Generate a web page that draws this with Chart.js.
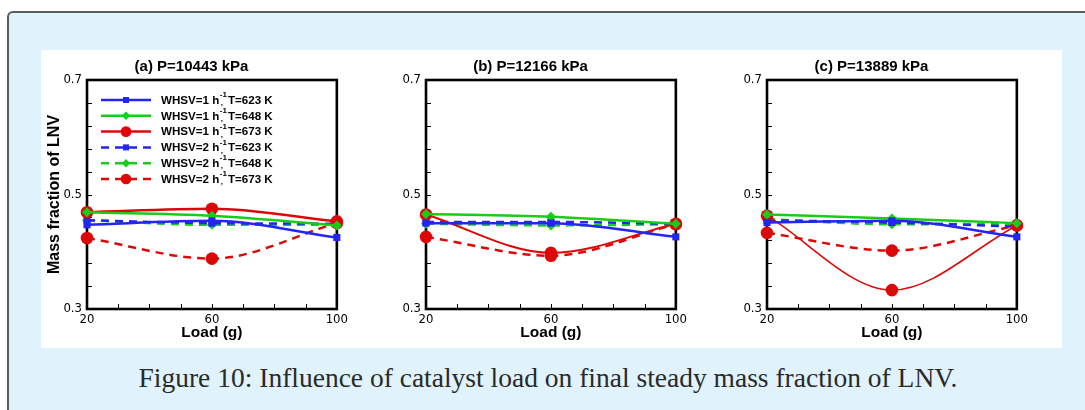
<!DOCTYPE html>
<html><head><meta charset="utf-8">
<script src="https://cdn.jsdelivr.net/npm/chart.js@4.4.0/dist/chart.umd.min.js"></script>
<style>
html,body{margin:0;padding:0;background:#fff;width:1085px;height:410px;overflow:hidden;}
#box{position:absolute;left:7px;top:11px;width:1100px;height:430px;border-left:2px solid #5a5a5a;border-top:2px solid #5a5a5a;border-top-left-radius:6px;background:#e0f2fc;box-sizing:border-box;}
#white{position:absolute;left:41px;top:50px;width:1021px;height:298px;background:#fff;}
canvas{position:absolute;}
#cap{position:absolute;left:0;width:1096px;top:363px;line-height:30px;text-align:center;font-family:'Liberation Serif','DejaVu Serif',serif;font-size:27.5px;color:#2a2a2a;white-space:nowrap;}
</style></head><body>
<div id="box"></div><div id="white"></div>
<canvas id="ca" width="310" height="298" style="left:41px;top:50px"></canvas>
<canvas id="cb" width="310" height="298" style="left:380px;top:50px"></canvas>
<canvas id="cc" width="310" height="298" style="left:721px;top:50px"></canvas>
<div id="cap">Figure 10: Influence of catalyst load on final steady mass fraction of LNV.</div>
<script>
// ---------- data ----------
const loads = [20, 60, 100];
const xTickLabels = [20, 60, 100];
const yTickLabels = [0.3, 0.5, 0.7];
const panelTitles = ['(a) P=10443 kPa', '(b) P=12166 kPa', '(c) P=13889 kPa'];
const whsvValues = [1, 1, 1, 2, 2, 2];
const tempValues = [623, 648, 673, 623, 648, 673];

// panel (a) P=10443 kPa
const a_w1_T623 = [0.447, 0.454, 0.425];
const a_w1_T648 = [0.469, 0.463, 0.446];
const a_w1_T673 = [0.469, 0.475, 0.453];
const a_w2_T623 = [0.455, 0.450, 0.449];
const a_w2_T648 = [0.455, 0.447, 0.447];
const a_w2_T673 = [0.424, 0.388, 0.450];
// panel (b) P=12166 kPa
const b_w1_T623 = [0.450, 0.450, 0.426];
const b_w1_T648 = [0.466, 0.461, 0.449];
const b_w1_T673 = [0.465, 0.398, 0.449];
const b_w2_T623 = [0.452, 0.452, 0.449];
const b_w2_T648 = [0.449, 0.446, 0.448];
const b_w2_T673 = [0.426, 0.393, 0.448];
// panel (c) P=13889 kPa
const c_w1_T623 = [0.451, 0.454, 0.426];
const c_w1_T648 = [0.465, 0.458, 0.450];
const c_w1_T673 = [0.463, 0.333, 0.446];
const c_w2_T623 = [0.455, 0.451, 0.444];
const c_w2_T648 = [0.457, 0.448, 0.449];
const c_w2_T673 = [0.433, 0.402, 0.446];

// ---------- styles ----------
const BLUE = '#2424f4', GREEN = '#18cc18', RED = '#dc0808';
const seriesStyle = [
  {color: BLUE,  shape: 'rect',    r: 5,   dash: []},
  {color: GREEN, shape: 'rectRot', r: 5,   dash: []},
  {color: RED,   shape: 'circle',  r: 6.3, dash: []},
  {color: BLUE,  shape: 'rect',    r: 5,   dash: [8, 6]},
  {color: GREEN, shape: 'rectRot', r: 5,   dash: [8, 6]},
  {color: RED,   shape: 'circle',  r: 6.3, dash: [8, 6]}
];

const SANS = "'Liberation Sans', Arial, sans-serif";
const NARROW = "'Liberation Sans Narrow', 'Arial Narrow', 'DejaVu Sans Condensed', sans-serif";

function makeDatasets(seriesList, widths) {
  return seriesList.map((vals, i) => {
    const s = seriesStyle[i];
    return {
      label: 'WHSV=' + whsvValues[i] + ' h-1,T=' + tempValues[i] + ' K',
      data: loads.map((x, k) => ({x: x, y: vals[k]})),
      borderColor: s.color,
      backgroundColor: s.color,
      pointStyle: s.shape,
      pointRadius: s.r,
      pointHoverRadius: s.r,
      pointBorderWidth: 0,
      borderWidth: widths[i],
      borderDash: s.dash,
      cubicInterpolationMode: 'monotone',
      clip: false
    };
  });
}

const framePlugin = {
  id: 'frame',
  beforeDatasetsDraw(chart) {
    const {ctx, chartArea: a, scales: {x, y}} = chart;
    ctx.save();
    ctx.strokeStyle = '#000';
    ctx.lineWidth = 1;
    ctx.beginPath();
    y.ticks.forEach(t => {
      const py = Math.round(y.getPixelForValue(t.value)) + 0.5;
      ctx.moveTo(a.left, py); ctx.lineTo(a.left + 5, py);
    });
    x.ticks.forEach(t => {
      const px = Math.round(x.getPixelForValue(t.value)) + 0.5;
      ctx.moveTo(px, a.bottom); ctx.lineTo(px, a.bottom - 5);
    });
    ctx.stroke();
    ctx.lineWidth = 2.6;
    ctx.strokeRect(a.left, a.top, a.right - a.left, a.bottom - a.top);
    ctx.restore();
  }
};

const legendPlugin = {
  id: 'seriesLegend',
  afterDatasetsDraw(chart, args, opts) {
    if (!opts.show) return;
    const {ctx, chartArea: a} = chart;
    chart.data.datasets.forEach((d, i) => {
      const y = a.top + opts.top + i * opts.step;
      const x0 = a.left + opts.left, x1 = x0 + opts.lineLen;
      ctx.save();
      ctx.strokeStyle = d.borderColor;
      ctx.lineWidth = 2.5;
      ctx.setLineDash(d.borderDash);
      ctx.beginPath(); ctx.moveTo(x0, y); ctx.lineTo(x1, y); ctx.stroke();
      ctx.setLineDash([]);
      ctx.fillStyle = d.backgroundColor;
      Chart.helpers.drawPoint(ctx, {pointStyle: d.pointStyle, radius: d.pointRadius * 0.85, borderWidth: 0, rotation: 0}, (x0 + x1) / 2, y);
      // text
      ctx.fillStyle = '#000';
      ctx.textBaseline = 'middle';
      let tx = a.left + opts.textLeft;
      ctx.font = 'bold 11.6px ' + SANS;
      const main = 'WHSV=' + whsvValues[i] + ' h';
      ctx.fillText(main, tx, y + 0.5);
      tx += ctx.measureText(main).width + 0.5;
      ctx.font = 'bold 8px ' + SANS;
      ctx.fillText('-1', tx, y - 5);
      ctx.fillText(',', tx + 1, y + 3);
      tx += ctx.measureText('-1').width + 1;
      ctx.font = 'bold 11.6px ' + SANS;
      ctx.fillText('T=' + tempValues[i] + ' K', tx, y + 0.5);
      ctx.restore();
    });
  }
};

function makeChart(id, title, seriesList, widths, showYTitle, showLegend) {
  return new Chart(document.getElementById(id), {
    type: 'line',
    data: {datasets: makeDatasets(seriesList, widths)},
    options: {
      responsive: false,
      animation: false,
      devicePixelRatio: 1,
      layout: {padding: {left: 0, right: 9, top: 0, bottom: 0}},
      plugins: {
        legend: {display: false},
        tooltip: {enabled: false},
        title: {display: true, text: title, color: '#000',
                font: {family: SANS, size: 15, weight: 'bold'},
                padding: {top: 8, bottom: 4}},
        seriesLegend: {show: showLegend, top: 20, step: 15.8, left: 14, lineLen: 50, textLeft: 74}
      },
      scales: {
        x: {
          type: 'linear', min: 20, max: 100,
          afterFit(s) { s.height = 39; },
          ticks: {stepSize: 10, padding: 3, color: '#000',
                  font: {family: NARROW, size: 13},
                  maxRotation: 0, autoSkip: false,
                  callback: v => xTickLabels.includes(v) ? String(v) : ''},
          grid: {display: false, drawTicks: false},
          border: {display: false},
          title: {display: true, text: 'Load (g)', color: '#000',
                  font: {family: SANS, size: 15.5, weight: 'bold'},
                  padding: {top: 0, bottom: 6}}
        },
        y: {
          type: 'linear', min: 0.3, max: 0.7,
          afterFit(s) { s.width = 46; },
          ticks: {stepSize: 0.04, padding: 5, color: '#000',
                  font: {family: NARROW, size: 13},
                  autoSkip: false,
                  callback: v => yTickLabels.some(t => Math.abs(t - v) < 1e-6) ? v.toFixed(1) : ''},
          grid: {display: false, drawTicks: false},
          border: {display: false},
          title: {display: showYTitle, text: 'Mass fraction of LNV', color: '#000',
                  font: {family: SANS, size: 16, weight: 'bold'},
                  padding: {top: 4, bottom: 0}}
        }
      }
    },
    plugins: [framePlugin, legendPlugin]
  });
}

makeChart('ca', panelTitles[0],
  [a_w1_T623, a_w1_T648, a_w1_T673, a_w2_T623, a_w2_T648, a_w2_T673],
  [2.5, 2.5, 2.5, 2.5, 2.5, 2.5], true, true);
makeChart('cb', panelTitles[1],
  [b_w1_T623, b_w1_T648, b_w1_T673, b_w2_T623, b_w2_T648, b_w2_T673],
  [2.5, 2.5, 2, 2.5, 2.5, 2.5], false, false);
makeChart('cc', panelTitles[2],
  [c_w1_T623, c_w1_T648, c_w1_T673, c_w2_T623, c_w2_T648, c_w2_T673],
  [2.5, 2.5, 1.6, 2.5, 2.5, 2.5], false, false);
</script>
</body></html>
